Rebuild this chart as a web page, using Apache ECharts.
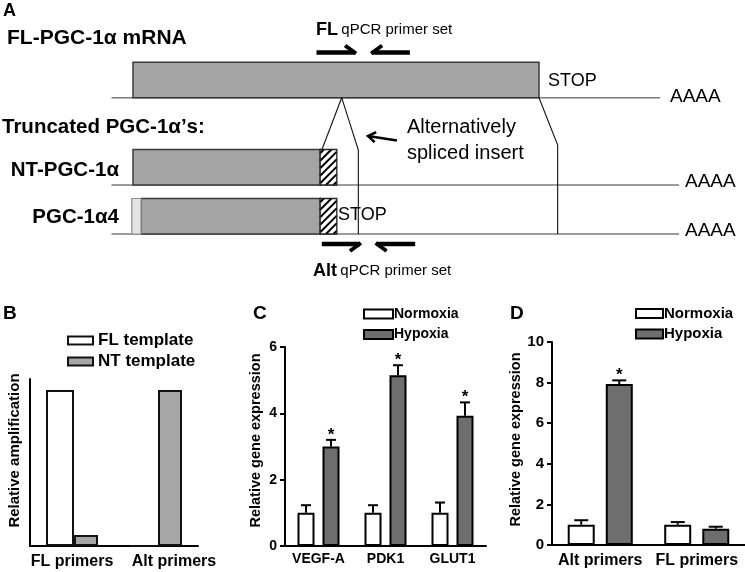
<!DOCTYPE html>
<html><head><meta charset="utf-8">
<script src="https://cdn.jsdelivr.net/npm/echarts@6/dist/echarts.min.js"></script>
<style>html,body{margin:0;padding:0;background:#fff}#c{width:745px;height:572px}</style>
</head><body><div id="c"></div>
<script>
const FONT = '"Liberation Sans", Arial, Helvetica, sans-serif';

// ---------- Panel A: transcript map (x: FL coding region 0..100, y: track units) ----------
const trackBaseY = [97.7, 185, 234];
const trackLineSpan = [[-5.3, 129.8], [-5.3, 134.5], [-5.3, 134.5]];
const orfBoxes = [[0, 100, 0], [0, 46.1, 1], [2.0, 46.1, 2]];
const uniqueExonBoxes = [[-0.3, 2.0, 2]];
const insertBoxes = [[46.1, 50.2, 1], [46.1, 50.2, 2]];
const spliceLines = [
  [[51.4, 97.7], [46.5, 150]],
  [[51.4, 97.7], [55.5, 150], [55.5, 234]],
  [[100, 97.7], [104.6, 145], [104.6, 234]]
];
// [start, end, y, direction (1 forward / -1 reverse), barb side (-1 up / 1 down)]
const primerArrows = [[45.2, 54.7, 52.5, 1, -1], [58.9, 68.2, 52.5, -1, -1], [46.5, 55.9, 244, 1, 1], [60.0, 69.5, 244, -1, 1]];
const insertPointer = [[65.0, 140.5], [57.9, 136]];

// ---------- Panel B ----------
const bCategories = ['FL primers', 'Alt primers'];
const bFLTemplate = [1.0, 0];
const bNTTemplate = [0.07, 1.0];

// ---------- Panel C ----------
const cCategories = ['VEGF-A', 'PDK1', 'GLUT1'];
const cNormoxia = [1.0, 1.0, 1.0];
const cNormoxiaErr = [0.23, 0.23, 0.31];
const cHypoxia = [3.0, 5.15, 3.93];
const cHypoxiaErr = [0.2, 0.3, 0.4];
const cHypoxiaSig = [1, 1, 1];

// ---------- Panel D ----------
const dCategories = ['Alt primers', 'FL primers'];
const dNormoxia = [1.0, 1.0];
const dNormoxiaErr = [0.22, 0.13];
const dHypoxia = [7.93, 0.8];
const dHypoxiaErr = [0.18, 0.1];
const dHypoxiaSig = [1, 0];

const BOX_H = 35.5;
const chart = echarts.init(document.getElementById('c'), null, {renderer: 'canvas'});

function rectFrom(api, x0, x1, yb) {
  const p0 = api.coord([x0, yb - BOX_H]);
  const p1 = api.coord([x1, yb]);
  return {x: p0[0], y: p0[1], width: p1[0] - p0[0], height: p1[1] - p0[1]};
}

function hatch(r, step) {
  const out = [];
  const x0 = r.x, x1 = r.x + r.width, y0 = r.y, y1 = r.y + r.height;
  for (let c = x0 + y0 + step / 2; c < x1 + y1; c += step) {
    const xa = Math.max(x0, c - y1), xb = Math.min(x1, c - y0);
    if (xb > xa) out.push({type: 'line', shape: {x1: xa, y1: c - xa, x2: xb, y2: c - xb}, style: {stroke: '#000', lineWidth: 2}});
  }
  return out;
}

function errorSeries(gi, values, errs, sig, offset, capHalf) {
  return {
    type: 'custom', xAxisIndex: gi, yAxisIndex: gi, z: 5, silent: true,
    data: values.map((v, i) => [i, v, errs[i], sig ? sig[i] : 0]),
    renderItem: function (params, api) {
      const i = api.value(0), v = api.value(1), e = api.value(2), s = api.value(3);
      const p0 = api.coord([i, v]);
      const p1 = api.coord([i, v + e]);
      const x = p0[0] + offset;
      const ch = [
        {type: 'line', shape: {x1: x, y1: p0[1], x2: x, y2: p1[1]}, style: {stroke: '#000', lineWidth: 2}},
        {type: 'line', shape: {x1: x - capHalf, y1: p1[1], x2: x + capHalf, y2: p1[1]}, style: {stroke: '#000', lineWidth: 2}}
      ];
      if (s) ch.push({type: 'text', style: {text: '*', x: x, y: p1[1] - 5, align: 'center', verticalAlign: 'middle', font: 'bold 17px ' + FONT, fill: '#000'}});
      return {type: 'group', children: ch};
    }
  };
}

const axisBlack = {color: '#000', width: 2};
const boldLabel = (size) => ({color: '#000', fontWeight: 'bold', fontSize: size, fontFamily: FONT});

const option = {
  animation: false,
  backgroundColor: '#fff',
  grid: [
    {left: 133, top: 0, width: 406, height: 300},
    {left: 30, top: 379, width: 168, height: 167},
    {left: 285, top: 347, width: 201, height: 199},
    {left: 552, top: 342, width: 204, height: 203}
  ],
  xAxis: [
    {gridIndex: 0, type: 'value', min: 0, max: 100, show: false},
    {gridIndex: 1, type: 'category', data: bCategories,
      axisLine: {lineStyle: axisBlack}, axisTick: {show: false},
      axisLabel: Object.assign(boldLabel(16), {margin: 8, interval: 0, hideOverlap: false,
        formatter: (v, i) => i === 1 ? '{s|' + v + '}' : v,
        rich: {s: Object.assign(boldLabel(16), {padding: [0, 0, 0, 36]})}})},
    {gridIndex: 2, type: 'category', data: cCategories,
      axisLine: {lineStyle: axisBlack}, axisTick: {alignWithLabel: true, interval: 0, length: 5, lineStyle: axisBlack},
      axisLabel: Object.assign(boldLabel(14), {margin: 6, interval: 0, hideOverlap: false})},
    {gridIndex: 3, type: 'category', data: dCategories,
      axisLine: {lineStyle: axisBlack}, axisTick: {alignWithLabel: true, interval: 0, length: 5, lineStyle: axisBlack},
      axisLabel: Object.assign(boldLabel(16), {margin: 8, interval: 0, hideOverlap: false})}
  ],
  yAxis: [
    {gridIndex: 0, type: 'value', min: 0, max: 300, inverse: true, show: false},
    {gridIndex: 1, type: 'value', min: 0, max: 1.07,
      axisLine: {show: true, lineStyle: axisBlack}, axisTick: {show: false}, axisLabel: {show: false}, splitLine: {show: false},
      name: 'Relative amplification', nameLocation: 'middle', nameGap: 8,
      nameTextStyle: Object.assign(boldLabel(15), {padding: [0, 0, 0, 24]})},
    {gridIndex: 2, type: 'value', min: 0, max: 6, interval: 2,
      axisLine: {show: true, lineStyle: axisBlack}, axisTick: {show: true, length: 5, lineStyle: axisBlack},
      axisLabel: Object.assign(boldLabel(14), {margin: 8}), splitLine: {show: false},
      name: 'Relative gene expression', nameLocation: 'middle', nameGap: 22,
      nameTextStyle: Object.assign(boldLabel(14.5), {padding: [0, 0, 0, 12]})},
    {gridIndex: 3, type: 'value', min: 0, max: 10, interval: 2,
      axisLine: {show: true, lineStyle: axisBlack}, axisTick: {show: true, length: 5, lineStyle: axisBlack},
      axisLabel: Object.assign(boldLabel(15), {margin: 8}), splitLine: {show: false},
      name: 'Relative gene expression', nameLocation: 'middle', nameGap: 27,
      nameTextStyle: Object.assign(boldLabel(14.5), {padding: [0, 0, 0, 8]})}
  ],
  legend: [
    {left: 67, top: 332, orient: 'vertical', padding: 0, itemWidth: 25, itemHeight: 8, itemGap: 4, icon: 'rect', selectedMode: false,
      data: ['FL template', 'NT template'], textStyle: Object.assign(boldLabel(17), {padding: [0, 0, 0, 0]})},
    {left: 363, top: 307, orient: 'vertical', padding: 0, itemWidth: 29, itemHeight: 9, itemGap: 6.5, icon: 'rect', selectedMode: false,
      data: ['Normoxia', 'Hypoxia'], textStyle: Object.assign(boldLabel(14), {padding: [0, 0, 0, -4]})},
    {left: 635, top: 306, orient: 'vertical', padding: 0, itemWidth: 27, itemHeight: 9, itemGap: 5.5, icon: 'rect', selectedMode: false,
      data: ['Normoxia', 'Hypoxia'], textStyle: Object.assign(boldLabel(15), {padding: [0, 0, 0, -4]})}
  ],
  series: [
    // ----- Panel A -----
    {type: 'custom', xAxisIndex: 0, yAxisIndex: 0, silent: true, z: 1,
      data: trackLineSpan.map((s, i) => [s[0], s[1], trackBaseY[i]]),
      renderItem: (p, api) => {
        const a = api.coord([api.value(0), api.value(2)]), b = api.coord([api.value(1), api.value(2)]);
        return {type: 'line', shape: {x1: a[0], y1: a[1], x2: b[0], y2: b[1]}, style: {stroke: '#7a7a7a', lineWidth: 1.6}};
      }},
    {type: 'custom', xAxisIndex: 0, yAxisIndex: 0, silent: true, z: 2,
      data: orfBoxes.map(b => [b[0], b[1], trackBaseY[b[2]]]),
      renderItem: (p, api) => ({type: 'rect', shape: rectFrom(api, api.value(0), api.value(1), api.value(2)),
        style: {fill: '#a4a4a4', stroke: '#3a3a3a', lineWidth: 1.5}})},
    {type: 'custom', xAxisIndex: 0, yAxisIndex: 0, silent: true, z: 2,
      data: uniqueExonBoxes.map(b => [b[0], b[1], trackBaseY[b[2]]]),
      renderItem: (p, api) => ({type: 'rect', shape: rectFrom(api, api.value(0), api.value(1), api.value(2)),
        style: {fill: '#e4e4e4', stroke: '#8a8a8a', lineWidth: 1.2}})},
    {type: 'custom', xAxisIndex: 0, yAxisIndex: 0, silent: true, z: 3,
      data: insertBoxes.map(b => [b[0], b[1], trackBaseY[b[2]]]),
      renderItem: (p, api) => {
        const r = rectFrom(api, api.value(0), api.value(1), api.value(2));
        return {type: 'group', children: [{type: 'rect', shape: r, style: {fill: '#fff', stroke: 'none'}}]
          .concat(hatch(r, 7.5)).concat([{type: 'rect', shape: r, style: {fill: 'none', stroke: '#222', lineWidth: 1.3}}])};
      }},
    {type: 'custom', xAxisIndex: 0, yAxisIndex: 0, silent: true, z: 4,
      data: spliceLines.map((l, i) => [i]),
      renderItem: (p, api) => {
        const pts = spliceLines[api.value(0)].map(q => api.coord(q));
        return {type: 'polyline', shape: {points: pts}, style: {stroke: '#111', lineWidth: 1.1, fill: 'none'}};
      }},
    {type: 'custom', xAxisIndex: 0, yAxisIndex: 0, silent: true, z: 4,
      data: primerArrows,
      renderItem: (p, api) => {
        const a = api.coord([api.value(0), api.value(2)]), b = api.coord([api.value(1), api.value(2)]);
        const dir = api.value(3), side = api.value(4);
        const tip = dir > 0 ? b : a;
        return {type: 'group', children: [
          {type: 'line', shape: {x1: a[0], y1: a[1], x2: b[0], y2: b[1]}, style: {stroke: '#000', lineWidth: 4.5}},
          {type: 'line', shape: {x1: tip[0] + (dir > 0 ? 1 : -1), y1: tip[1] - side, x2: tip[0] - dir * 10, y2: tip[1] + side * 7}, style: {stroke: '#000', lineWidth: 4}}
        ]};
      }},
    {type: 'custom', xAxisIndex: 0, yAxisIndex: 0, silent: true, z: 4,
      data: [[0]],
      renderItem: (p, api) => {
        const s = api.coord(insertPointer[0]), t = api.coord(insertPointer[1]);
        const ang = Math.atan2(s[1] - t[1], s[0] - t[0]);
        const L = 9, w = 0.6;
        return {type: 'group', children: [
          {type: 'line', shape: {x1: s[0], y1: s[1], x2: t[0], y2: t[1]}, style: {stroke: '#000', lineWidth: 2.6}},
          {type: 'polyline', shape: {points: [[t[0] + L * Math.cos(ang + w), t[1] + L * Math.sin(ang + w)], [t[0], t[1]], [t[0] + L * Math.cos(ang - w), t[1] + L * Math.sin(ang - w)]]},
            style: {stroke: '#000', lineWidth: 2.6, fill: 'none'}}
        ]};
      }},
    // ----- Panel B -----
    {type: 'bar', name: 'FL template', xAxisIndex: 1, yAxisIndex: 1, data: bFLTemplate, barWidth: 28, barGap: '0%',
      itemStyle: {color: '#fff', borderColor: '#111', borderWidth: 2}, silent: true},
    {type: 'bar', name: 'NT template', xAxisIndex: 1, yAxisIndex: 1, data: bNTTemplate, barWidth: 24, barGap: '0%',
      itemStyle: {color: '#a6a6a6', borderColor: '#111', borderWidth: 2}, silent: true},
    // ----- Panel C -----
    {type: 'bar', name: 'Normoxia', xAxisIndex: 2, yAxisIndex: 2, data: cNormoxia, barWidth: 17, barGap: '47%',
      itemStyle: {color: '#fff', borderColor: '#000', borderWidth: 2}, silent: true},
    {type: 'bar', name: 'Hypoxia', xAxisIndex: 2, yAxisIndex: 2, data: cHypoxia, barWidth: 17, barGap: '47%',
      itemStyle: {color: '#6e6e6e', borderColor: '#000', borderWidth: 2}, silent: true},
    errorSeries(2, cNormoxia, cNormoxiaErr, null, -12.5, 5),
    errorSeries(2, cHypoxia, cHypoxiaErr, cHypoxiaSig, 12.5, 5),
    // ----- Panel D -----
    {type: 'bar', name: 'Normoxia', xAxisIndex: 3, yAxisIndex: 3, data: dNormoxia, barWidth: 27, barGap: '41%',
      itemStyle: {color: '#fff', borderColor: '#000', borderWidth: 2}, silent: true},
    {type: 'bar', name: 'Hypoxia', xAxisIndex: 3, yAxisIndex: 3, data: dHypoxia, barWidth: 27, barGap: '41%',
      itemStyle: {color: '#6e6e6e', borderColor: '#000', borderWidth: 2}, silent: true},
    errorSeries(3, dNormoxia, dNormoxiaErr, null, -19, 7),
    errorSeries(3, dHypoxia, dHypoxiaErr, dHypoxiaSig, 19, 7)
  ],
  graphic: [
    {type: 'text', left: 3, top: 2, style: {text: 'A', font: 'bold 18px ' + FONT, fill: '#000'}},
    {type: 'text', x: 7, y: 38, style: {text: 'FL-PGC-1α mRNA', font: 'bold 21px ' + FONT, fill: '#000', verticalAlign: 'middle'}},
    {type: 'text', x: 2, y: 127, style: {text: 'Truncated PGC-1α’s:', font: 'bold 20.5px ' + FONT, fill: '#000', verticalAlign: 'middle'}},
    {type: 'text', x: 119, y: 170, style: {text: 'NT-PGC-1α', font: 'bold 20.5px ' + FONT, fill: '#000', align: 'right', verticalAlign: 'middle'}},
    {type: 'text', x: 119, y: 217, style: {text: 'PGC-1α4', font: 'bold 20.5px ' + FONT, fill: '#000', align: 'right', verticalAlign: 'middle'}},
    {type: 'text', x: 548, y: 81, style: {text: 'STOP', font: '18px ' + FONT, fill: '#000', verticalAlign: 'middle'}},
    {type: 'text', x: 338, y: 215.5, style: {text: 'STOP', font: '18px ' + FONT, fill: '#000', verticalAlign: 'middle'}},
    {type: 'text', x: 670, y: 97, style: {text: 'AAAA', font: '19px ' + FONT, fill: '#000', verticalAlign: 'middle'}},
    {type: 'text', x: 685, y: 182, style: {text: 'AAAA', font: '19px ' + FONT, fill: '#000', verticalAlign: 'middle'}},
    {type: 'text', x: 685, y: 231, style: {text: 'AAAA', font: '19px ' + FONT, fill: '#000', verticalAlign: 'middle'}},
    {type: 'text', x: 407, y: 127, style: {text: 'Alternatively', font: '20px ' + FONT, fill: '#000', verticalAlign: 'middle'}},
    {type: 'text', x: 407, y: 153, style: {text: 'spliced insert', font: '20px ' + FONT, fill: '#000', verticalAlign: 'middle'}},
    {type: 'text', x: 316, y: 30, style: {text: '{b|FL} {s|qPCR primer set}', verticalAlign: 'middle', fill: '#000',
      rich: {b: {font: 'bold 18px ' + FONT, fill: '#000'}, s: {font: '15px ' + FONT, fill: '#000'}}}},
    {type: 'text', x: 313, y: 271, style: {text: '{b|Alt} {s|qPCR primer set}', verticalAlign: 'middle', fill: '#000',
      rich: {b: {font: 'bold 18px ' + FONT, fill: '#000'}, s: {font: '15px ' + FONT, fill: '#000'}}}},
    {type: 'text', left: 3, top: 304, style: {text: 'B', font: 'bold 19px ' + FONT, fill: '#000'}},
    {type: 'text', left: 253, top: 304, style: {text: 'C', font: 'bold 19px ' + FONT, fill: '#000'}},
    {type: 'text', left: 510, top: 304, style: {text: 'D', font: 'bold 19px ' + FONT, fill: '#000'}}
  ]
};
chart.setOption(option);
</script>
</body></html>
